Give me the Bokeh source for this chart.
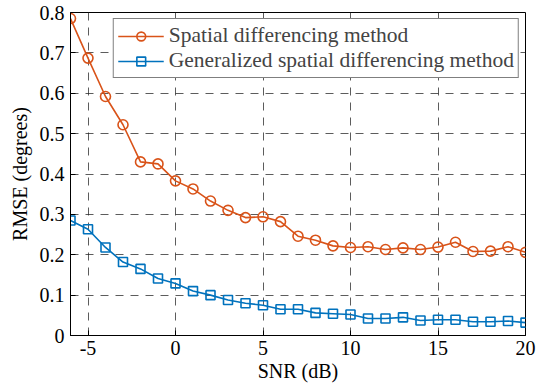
from bokeh.plotting import figure
from bokeh.models import Range1d, FixedTicker, Legend, LegendItem
from bokeh.embed import file_html
from bokeh.resources import INLINE

snr = list(range(-6, 21))
sdm = [0.785, 0.687, 0.592, 0.522, 0.430, 0.425, 0.383, 0.363, 0.333, 0.310, 0.292, 0.294,
       0.282, 0.246, 0.236, 0.222, 0.218, 0.220, 0.213, 0.217, 0.213, 0.219, 0.231, 0.208,
       0.209, 0.220, 0.206]
gsdm = [0.285, 0.263, 0.218, 0.182, 0.165, 0.141, 0.129, 0.110, 0.100, 0.088, 0.080, 0.075,
        0.065, 0.065, 0.056, 0.054, 0.052, 0.042, 0.042, 0.045, 0.037, 0.039, 0.039, 0.034,
        0.034, 0.036, 0.032]
x_ticks = [-5, 0, 5, 10, 15, 20]
y_ticks = [0, 0.1, 0.2, 0.3, 0.4, 0.5, 0.6, 0.7, 0.8]
labels = ["Spatial differencing method", "Generalized spatial differencing method"]

ORANGE = "#D95319"
BLUE = "#0072BD"
FONT = "'Liberation Serif', 'Times New Roman', Times, serif"

p = figure(width=536, height=388, output_backend="svg", toolbar_location=None,
           x_range=Range1d(-6, 20), y_range=Range1d(0, 0.8),
           min_border_left=70, min_border_right=11, min_border_top=12, min_border_bottom=53)

p.outline_line_color = "black"
p.outline_line_width = 1
p.background_fill_color = "white"
p.border_fill_color = "white"

for ax in (p.xaxis[0], p.yaxis[0]):
    ax.axis_line_color = "black"
    ax.major_tick_line_color = "black"
    ax.major_tick_in = 5
    ax.major_tick_out = 0
    ax.minor_tick_line_color = None
    ax.major_label_text_font = FONT
    ax.major_label_text_font_size = "20px"
    ax.major_label_text_color = "black"
    ax.axis_label_text_font = FONT
    ax.axis_label_text_font_size = "20px"
    ax.axis_label_text_font_style = "normal"
    ax.axis_label_text_color = "black"

p.xaxis.ticker = FixedTicker(ticks=x_ticks)
p.yaxis.ticker = FixedTicker(ticks=y_ticks)
p.xaxis.major_label_overrides = {-5: "-5"}
p.yaxis.major_label_overrides = {0: "0"}
p.xaxis.axis_label = "SNR (dB)"
p.yaxis.axis_label = "RMSE (degrees)"
p.xaxis.major_label_standoff = 5
p.yaxis.major_label_standoff = 6
p.xaxis.axis_label_standoff = 2
p.yaxis.axis_label_standoff = 6

for g in (p.xgrid[0], p.ygrid[0]):
    g.grid_line_color = "#262626"
    g.grid_line_dash = "8 7"
    g.grid_line_width = 1
    g.grid_line_alpha = 0.75

l1 = p.line(snr, sdm, line_color=ORANGE, line_width=1.6)
m1 = p.scatter(snr, sdm, marker="circle", size=10, fill_color=None, line_color=ORANGE, line_width=1.6)
l2 = p.line(snr, gsdm, line_color=BLUE, line_width=1.6)
m2 = p.scatter(snr, gsdm, marker="square", size=9, fill_color=None, line_color=BLUE, line_width=1.6)

legend = Legend(items=[LegendItem(label=labels[0], renderers=[l1, m1]),
                       LegendItem(label=labels[1], renderers=[l2, m2])],
                location="top_right", margin=6, padding=4, spacing=0,
                glyph_width=46, glyph_height=22, label_height=22,
                label_text_font=FONT, label_text_font_size="21.5px", label_standoff=5,
                border_line_color="black", border_line_width=1, background_fill_alpha=1)
p.add_layout(legend)

open("out.html", "w").write(file_html(p, INLINE))
